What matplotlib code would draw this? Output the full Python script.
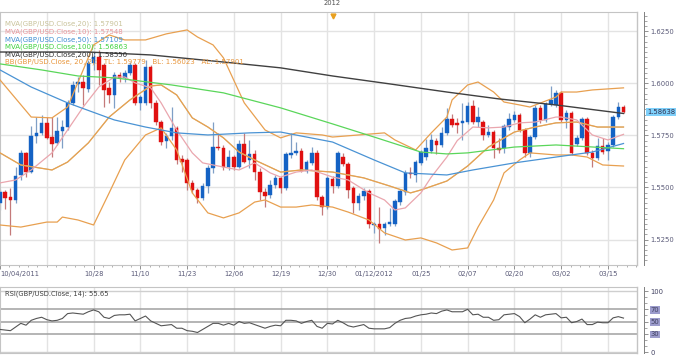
import matplotlib.pyplot as plt
from matplotlib.ticker import FixedLocator, MultipleLocator
from matplotlib.transforms import blended_transform_factory

plt.rcParams['font.family'] = 'DejaVu Sans'

# GBP/USD daily bars, 10/04/2011 .. 03/20/2012 (bar index 0..120)
opens = [1.5426, 1.5478, 1.5454, 1.5440, 1.5560, 1.5666, 1.5574, 1.5747, 1.5762, 1.5810,
         1.5742, 1.5714, 1.5771, 1.5790, 1.5906, 1.5997, 1.6006, 1.5973, 1.6098, 1.6126,
         1.6088, 1.5978, 1.5944, 1.6040, 1.6026, 1.6050, 1.6088, 1.5906, 1.5906, 1.6078,
         1.5906, 1.5814, 1.5723, 1.5747, 1.5786, 1.5637, 1.5632, 1.5522, 1.5488, 1.5450,
         1.5507, 1.5594, 1.5694, 1.5690, 1.5598, 1.5646, 1.5598, 1.5709, 1.5632, 1.5661,
         1.5574, 1.5478, 1.5464, 1.5512, 1.5546, 1.5498, 1.5656, 1.5666, 1.5675, 1.5579,
         1.5618, 1.5666, 1.5454, 1.5406, 1.5541, 1.5507, 1.5646, 1.5613, 1.5498, 1.5426,
         1.5459, 1.5483, 1.5320, 1.5325, 1.5306, 1.5325, 1.5325, 1.5430, 1.5478, 1.5570,
         1.5560, 1.5618, 1.5646, 1.5675, 1.5723, 1.5704, 1.5762, 1.5829, 1.5810, 1.5810,
         1.5814, 1.5891, 1.5814, 1.5814, 1.5752, 1.5766, 1.5690, 1.5690, 1.5790, 1.5824,
         1.5848, 1.5776, 1.5666, 1.5742, 1.5882, 1.5824, 1.5901, 1.5896, 1.5954, 1.5824,
         1.5858, 1.5709, 1.5738, 1.5829, 1.5666, 1.5642, 1.5699, 1.5675, 1.5704, 1.5838,
         1.5886]
highs = [1.5493, 1.5488, 1.5498, 1.5598, 1.5680, 1.5670, 1.5795, 1.5838, 1.5848, 1.5838,
         1.5838, 1.5838, 1.5824, 1.5920, 1.6011, 1.6030, 1.6040, 1.6112, 1.6150, 1.6160,
         1.6098, 1.6006, 1.6054, 1.6054, 1.6064, 1.6102, 1.6098, 1.5944, 1.6112, 1.6088,
         1.5920, 1.5824, 1.5762, 1.5886, 1.5795, 1.5656, 1.5642, 1.5536, 1.5498, 1.5522,
         1.5608, 1.5814, 1.5762, 1.5704, 1.5680, 1.5656, 1.5728, 1.5762, 1.5728, 1.5680,
         1.5594, 1.5498, 1.5536, 1.5560, 1.5555, 1.5670, 1.5762, 1.5718, 1.5690, 1.5632,
         1.5694, 1.5680, 1.5464, 1.5555, 1.5555, 1.5675, 1.5666, 1.5622, 1.5507, 1.5474,
         1.5498, 1.5493, 1.5334, 1.5406, 1.5334, 1.5402, 1.5445, 1.5493, 1.5584, 1.5598,
         1.5632, 1.5680, 1.5733, 1.5757, 1.5738, 1.5790, 1.5882, 1.5853, 1.5834, 1.5906,
         1.5910, 1.5920, 1.5886, 1.5824, 1.5800, 1.5776, 1.5738, 1.5805, 1.5858, 1.5867,
         1.5858, 1.5786, 1.5752, 1.5896, 1.5896, 1.5910, 1.5987, 1.5968, 1.5963, 1.5872,
         1.5867, 1.5752, 1.5838, 1.5838, 1.5680, 1.5738, 1.5738, 1.5718, 1.5848, 1.5910,
         1.5896]
lows = [1.5392, 1.5397, 1.5272, 1.5426, 1.5536, 1.5550, 1.5570, 1.5714, 1.5752, 1.5733,
        1.5646, 1.5704, 1.5690, 1.5776, 1.5896, 1.5958, 1.5896, 1.5958, 1.6064, 1.5992,
        1.5886, 1.5906, 1.5882, 1.6006, 1.6006, 1.6040, 1.5896, 1.5872, 1.5896, 1.5882,
        1.5800, 1.5704, 1.5690, 1.5728, 1.5613, 1.5574, 1.5488, 1.5474, 1.5426, 1.5440,
        1.5474, 1.5570, 1.5680, 1.5584, 1.5584, 1.5584, 1.5594, 1.5618, 1.5594, 1.5536,
        1.5440, 1.5406, 1.5450, 1.5498, 1.5474, 1.5488, 1.5642, 1.5656, 1.5574, 1.5570,
        1.5608, 1.5440, 1.5368, 1.5397, 1.5474, 1.5498, 1.5603, 1.5450, 1.5378, 1.5392,
        1.5440, 1.5306, 1.5282, 1.5234, 1.5272, 1.5315, 1.5315, 1.5416, 1.5464, 1.5546,
        1.5526, 1.5608, 1.5632, 1.5666, 1.5661, 1.5694, 1.5752, 1.5790, 1.5762, 1.5728,
        1.5805, 1.5805, 1.5790, 1.5728, 1.5742, 1.5642, 1.5666, 1.5666, 1.5776, 1.5814,
        1.5766, 1.5646, 1.5646, 1.5733, 1.5810, 1.5814, 1.5891, 1.5886, 1.5814, 1.5786,
        1.5656, 1.5699, 1.5728, 1.5656, 1.5598, 1.5632, 1.5661, 1.5632, 1.5694, 1.5829,
        1.5858]
closes = [1.5478, 1.5450, 1.5440, 1.5555, 1.5666, 1.5574, 1.5747, 1.5762, 1.5810, 1.5738,
          1.5709, 1.5771, 1.5790, 1.5906, 1.5992, 1.6006, 1.5978, 1.6098, 1.6126, 1.6064,
          1.5968, 1.5944, 1.6040, 1.6026, 1.6050, 1.6088, 1.5906, 1.5934, 1.6078, 1.5906,
          1.5814, 1.5718, 1.5747, 1.5786, 1.5632, 1.5622, 1.5522, 1.5488, 1.5450, 1.5507,
          1.5594, 1.5694, 1.5690, 1.5598, 1.5646, 1.5598, 1.5709, 1.5622, 1.5661, 1.5574,
          1.5478, 1.5459, 1.5512, 1.5546, 1.5498, 1.5661, 1.5666, 1.5675, 1.5579, 1.5622,
          1.5666, 1.5454, 1.5406, 1.5546, 1.5507, 1.5666, 1.5613, 1.5488, 1.5426, 1.5459,
          1.5483, 1.5325, 1.5325, 1.5301, 1.5325, 1.5334, 1.5435, 1.5483, 1.5570, 1.5565,
          1.5622, 1.5670, 1.5690, 1.5728, 1.5704, 1.5762, 1.5829, 1.5800, 1.5800, 1.5819,
          1.5891, 1.5814, 1.5838, 1.5752, 1.5766, 1.5690, 1.5680, 1.5795, 1.5829, 1.5848,
          1.5776, 1.5666, 1.5742, 1.5882, 1.5824, 1.5901, 1.5920, 1.5954, 1.5824, 1.5858,
          1.5666, 1.5738, 1.5829, 1.5666, 1.5642, 1.5699, 1.5670, 1.5704, 1.5838, 1.5886,
          1.58638]

# indicator lines (bar index, value)
ma200_bars = [0, 17, 29, 43, 54, 64, 75, 86, 96, 107, 120]
ma200_vals = [1.6150, 1.6150, 1.6136, 1.6102, 1.6074, 1.6035, 1.5997, 1.5958, 1.5925, 1.5896, 1.5855]

ma100_bars = [0, 8, 15, 22, 33, 43, 54, 64, 72, 81, 86, 90, 99, 107, 120]
ma100_vals = [1.6093, 1.6064, 1.6035, 1.6026, 1.5992, 1.5954, 1.5882, 1.5805, 1.5742, 1.5670,
              1.5661, 1.5666, 1.5694, 1.5704, 1.5686]

ma50_bars = [0, 6, 13, 22, 28, 34, 40, 48, 54, 64, 72, 78, 86, 91, 99, 107, 114, 120]
ma50_vals = [1.6064, 1.5982, 1.5906, 1.5824, 1.5790, 1.5762, 1.5752, 1.5762, 1.5766, 1.5718,
             1.5632, 1.5570, 1.5560, 1.5584, 1.5618, 1.5646, 1.5670, 1.5711]

ma10_bars = [0, 3, 6, 10, 13, 16, 19, 22, 24, 26, 29, 31, 34, 37, 39, 43, 46, 49, 52, 54,
             57, 60, 64, 67, 71, 74, 76, 78, 81, 83, 86, 88, 91, 94, 97, 100, 103, 107, 108,
             111, 114, 117, 120]
ma10_vals = [1.5522, 1.5536, 1.5584, 1.5666, 1.5776, 1.5886, 1.5982, 1.6030, 1.6030, 1.6002,
             1.5978, 1.5906, 1.5776, 1.5666, 1.5618, 1.5598, 1.5584, 1.5618, 1.5570, 1.5550,
             1.5574, 1.5584, 1.5550, 1.5536, 1.5474, 1.5440, 1.5392, 1.5402, 1.5474, 1.5550,
             1.5646, 1.5725, 1.5790, 1.5786, 1.5790, 1.5810, 1.5814, 1.5838, 1.5838, 1.5824,
             1.5752, 1.5728, 1.5755]

# MVA20 = Bollinger middle line
mid_bars = [0, 4, 10, 13, 17, 21, 25, 29, 31, 34, 37, 40, 43, 46, 49, 54, 58, 64, 70, 75,
            79, 81, 86, 90, 94, 99, 103, 107, 111, 115, 120]
mid_vals = [1.5666, 1.5608, 1.5584, 1.5622, 1.5714, 1.5838, 1.5920, 1.5987, 1.5992, 1.5944,
            1.5834, 1.5790, 1.5738, 1.5670, 1.5632, 1.5574, 1.5584, 1.5574, 1.5546, 1.5507,
            1.5474, 1.5488, 1.5531, 1.5603, 1.5694, 1.5766, 1.5790, 1.5810, 1.5814, 1.5790,
            1.5790]

bb_up_bars = [0, 6, 10, 13, 16, 18, 21, 24, 28, 32, 36, 38, 41, 43, 47, 51, 54, 57, 62, 64,
              74, 76, 80, 83, 86, 87, 90, 92, 95, 97, 100, 102, 107, 108, 111, 114, 120]
bb_up_vals = [1.6016, 1.5838, 1.5834, 1.5886, 1.6064, 1.6184, 1.6232, 1.6208, 1.6208, 1.6237,
              1.6256, 1.6222, 1.6184, 1.6122, 1.5906, 1.5776, 1.5738, 1.5762, 1.5752, 1.5742,
              1.5762, 1.5728, 1.5680, 1.5762, 1.5838, 1.5920, 1.5992, 1.6006, 1.5958, 1.5910,
              1.5896, 1.5886, 1.5934, 1.5958, 1.5958, 1.5968, 1.5978]

bb_low_bars = [0, 4, 9, 11, 12, 15, 18, 21, 24, 28, 31, 34, 37, 40, 43, 46, 49, 51, 54, 57,
               60, 64, 67, 71, 74, 78, 81, 84, 87, 90, 92, 95, 97, 100, 102, 107, 110, 113,
               116, 120]
bb_low_vals = [1.5320, 1.5310, 1.5334, 1.5334, 1.5358, 1.5344, 1.5320, 1.5474, 1.5632, 1.5752,
               1.5786, 1.5680, 1.5474, 1.5378, 1.5354, 1.5378, 1.5430, 1.5440, 1.5406, 1.5406,
               1.5416, 1.5406, 1.5382, 1.5344, 1.5282, 1.5248, 1.5258, 1.5234, 1.5200, 1.5210,
               1.5310, 1.5440, 1.5570, 1.5632, 1.5666, 1.5656, 1.5656, 1.5646, 1.5608, 1.5603]

rsi = [37, 36, 35, 41, 47, 44, 52, 55, 57, 53,
       51, 52, 55, 63, 64, 63, 62, 66, 69, 66,
       57, 55, 60, 61, 61, 62, 51, 55, 59, 51,
       47, 43, 44, 45, 39, 39, 35, 34, 32, 37,
       42, 47, 47, 44, 47, 44, 50, 47, 48, 45,
       42, 39, 42, 44, 43, 52, 52, 51, 47, 50,
       52, 42, 39, 47, 46, 52, 48, 43, 41, 43,
       45, 39, 38, 38, 38, 40, 47, 52, 55, 56,
       59, 61, 62, 64, 63, 67, 69, 66, 66, 66,
       70, 61, 62, 57, 57, 52, 53, 61, 62, 63,
       58, 48, 54, 61, 57, 61, 62, 63, 56, 57,
       48, 50, 54, 45, 45, 49, 48, 48, 56, 58,
       55.65]

date_labels = ['10/04/2011', '10/28', '11/10', '11/23', '12/06', '12/19', '12/30',
               '01/12/2012', '01/25', '02/07', '02/20', '03/02', '03/15']
label_bars = [0, 18, 27, 36, 45, 54, 63, 72, 81, 90, 99, 108, 117]
grid_bars = list(range(9, 118, 9))
year_bar = 64
price_ticks = [1.525, 1.55, 1.575, 1.60, 1.625]

legend = [
    ('MVA(GBP/USD.Close,20): 1.57901', '#c9c39a'),
    ('MVA(GBP/USD.Close,10): 1.57548', '#e8959a'),
    ('MVA(GBP/USD.Close,50): 1.57109', '#3f8fd2'),
    ('MVA(GBP/USD.Close,100): 1.56863', '#3fd23f'),
    ('MVA(GBP/USD.Close,200): 1.58550', '#303030'),
    ('BB(GBP/USD.Close, 20, 2):   TL: 1.59779   BL: 1.56023   AL: 1.57901', '#e8963c'),
]

FRAME = '#c4c4c4'
GRID = '#e3e3e3'
TXT = '#5a5a78'

fig = plt.figure(figsize=(6.8, 3.56), dpi=100)
ax = fig.add_axes([0, 0.2556, 0.9368, 0.7107])
rax = fig.add_axes([0, 0.0084, 0.9368, 0.1854])

n = len(closes)
bars = list(range(n))
xlim = (-0.01, 122.6)

# ---- price panel ----
for b in grid_bars:
    ax.axvline(b, color=GRID, lw=1.0, zorder=0)
for p in price_ticks:
    ax.axhline(p, color=GRID, lw=1.0, zorder=0)

up = [c >= o for o, c in zip(opens, closes)]
body_col = ['#1462c4' if u else '#e01010' for u in up]
wick_col = ['#7f9fc6' if u else '#c47a7a' for u in up]
ax.vlines(bars, lows, highs, colors=wick_col, lw=0.9, zorder=2)
bottoms = [min(o, c) for o, c in zip(opens, closes)]
heights = [max(abs(c - o), 0.0003) for o, c in zip(opens, closes)]
ax.bar(bars, heights, bottom=bottoms, width=0.68, color=body_col,
       edgecolor=body_col, lw=0.3, zorder=3)

ax.plot(mid_bars, mid_vals, color=legend[0][1], lw=0.8, zorder=4)
ax.plot(bb_up_bars, bb_up_vals, color='#e8a050', lw=0.9, zorder=4)
ax.plot(bb_low_bars, bb_low_vals, color='#e8a050', lw=0.9, zorder=4)
ax.plot(mid_bars, mid_vals, color='#e8a050', lw=0.9, zorder=4)
ax.plot(ma10_bars, ma10_vals, color='#eaa6ae', lw=0.9, zorder=4)
ax.plot(ma50_bars, ma50_vals, color='#4a93d4', lw=0.9, zorder=4)
ax.plot(ma100_bars, ma100_vals, color='#5ad65a', lw=0.9, zorder=4)
ax.plot(ma200_bars, ma200_vals, color='#404040', lw=1.0, zorder=4)

ax.set_xlim(*xlim)
ax.set_ylim(1.5128, 1.6342)

ax.yaxis.tick_right()
ax.yaxis.set_major_locator(FixedLocator(price_ticks))
ax.yaxis.set_minor_locator(MultipleLocator(0.0025))
ax.set_yticklabels(['%.4f' % p for p in price_ticks])
ax.tick_params(axis='y', which='major', length=3, width=0.6, color='#808080',
               labelsize=4.9, labelcolor=TXT, pad=1.5)
ax.tick_params(axis='y', which='minor', length=1.8, width=0.5, color='#808080')

ax.xaxis.set_major_locator(FixedLocator(label_bars))
ax.xaxis.set_minor_locator(MultipleLocator(1.8))
ax.set_xticklabels(date_labels)
ax.tick_params(axis='x', which='major', length=3, width=0.6, color='#808080',
               labelsize=4.9, labelcolor=TXT, pad=1.5)
ax.tick_params(axis='x', which='minor', length=1.5, width=0.5, color='#909090')
ax.get_xticklabels()[0].set_ha('left')

for s in ['left', 'top', 'bottom']:
    ax.spines[s].set_color(FRAME)
ax.spines['right'].set_position(('outward', 5))
ax.spines['right'].set_color('#808080')
ax.spines['right'].set_linewidth(0.7)
ax.plot([1, 1], [0, 1], transform=ax.transAxes, color=FRAME, lw=1.0, clip_on=False)

for k, (txt, col) in enumerate(legend):
    ax.text(0.008, 0.952 - k * 0.03, txt, transform=ax.transAxes, fontsize=5.0,
            color=col, va='center', ha='left', zorder=6)

# last price tag
ax.text(1.016, closes[-1], '%.5f' % closes[-1],
        transform=blended_transform_factory(ax.transAxes, ax.transData),
        fontsize=4.9, color='#303050', va='center', ha='left',
        bbox=dict(boxstyle='square,pad=0.15', fc='#7fd0fa', ec='none'), clip_on=False)

# year marker
yt = blended_transform_factory(ax.transData, ax.transAxes)
ax.plot([year_bar], [0.985], marker='v', ms=3.5, color='#e8a020', transform=yt, clip_on=False, zorder=7)
ax.text(year_bar, 1.035, '2012', transform=yt, fontsize=4.9, color='#505050',
        ha='center', va='center')

# ---- RSI panel ----
for b in grid_bars:
    rax.axvline(b, color=GRID, lw=1.0, zorder=0)
for lvl in [0, 100]:
    rax.axhline(lvl, color='#cfcfcf', lw=1.0, zorder=1)
for lvl in [30, 50, 70]:
    rax.axhline(lvl, color='#a0a0a0', lw=1.1, zorder=1)
rax.plot(bars, rsi, color='#555555', lw=0.8, zorder=3)
rax.set_xlim(*xlim)
rax.set_ylim(-1.64, 106.6)
rax.set_xticks([])
rax.yaxis.tick_right()
rax.yaxis.set_major_locator(FixedLocator([0, 30, 50, 70, 100]))
rax.yaxis.set_minor_locator(MultipleLocator(10))
rax.tick_params(axis='y', which='major', length=3, width=0.6, color='#808080',
                labelsize=4.9, labelcolor='#404060', pad=1.5)
rax.tick_params(axis='y', which='minor', length=1.8, width=0.5, color='#808080')
for s in ['left', 'top', 'bottom']:
    rax.spines[s].set_color(FRAME)
rax.spines['right'].set_position(('outward', 5))
rax.spines['right'].set_color('#808080')
rax.spines['right'].set_linewidth(0.7)
rax.plot([1, 1], [0, 1], transform=rax.transAxes, color=FRAME, lw=1.0, clip_on=False)
for lab in rax.get_yticklabels():
    if lab.get_text() in ('30', '50', '70'):
        lab.set_bbox(dict(boxstyle='square,pad=0.1', fc='#9c9ccc', ec='none'))
rax.text(0.008, 0.90, 'RSI(GBP/USD.Close, 14): 55.65', transform=rax.transAxes,
         fontsize=4.9, color='#404040', va='center', ha='left')

fig.savefig('out.png', dpi=100)
